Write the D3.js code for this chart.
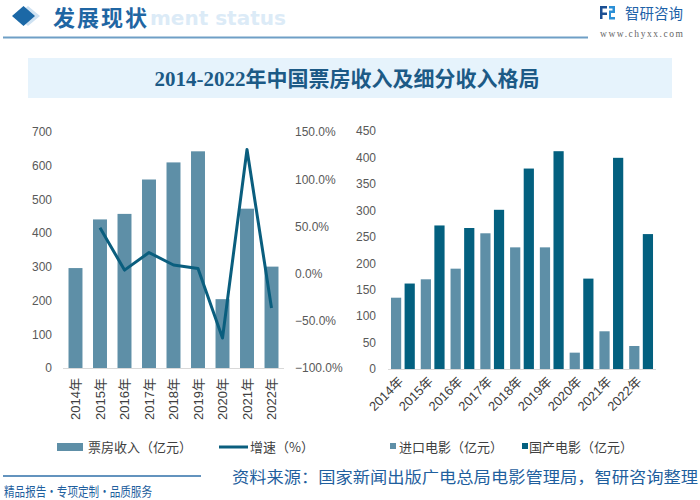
<!DOCTYPE html>
<html><head><meta charset="utf-8">
<script src="https://cdn.jsdelivr.net/npm/d3@7"></script>
<style>body{margin:0;background:#fff;} svg{display:block;}</style>
</head><body>
<svg id="c" width="700" height="500"></svg>
<script>
const years = ["2014年","2015年","2016年","2017年","2018年","2019年","2020年","2021年","2022年"];
const boxOffice = [296.4, 440.7, 457.1, 559.1, 609.8, 642.7, 204.2, 472.6, 300.7];
const growth = [null, 0.487, 0.037, 0.223, 0.091, 0.054, -0.682, 1.315, -0.364];
const importFilm = [134.8, 169.6, 189.7, 256.6, 230.0, 230.0, 30.9, 71.3, 43.5];
const domesticFilm = [161.6, 271.4, 266.6, 301.0, 379.0, 411.8, 170.9, 399.3, 255.1];
const leftTicks = [0,100,200,300,400,500,600,700];
const pctTicks = [-1,-0.5,0,0.5,1,1.5];
const rightTicks = [0,50,100,150,200,250,300,350,400,450];

const svg = d3.select("#c");
const CJK = "'Noto Sans CJK SC', 'Noto Sans', sans-serif";
const NUM = "'Liberation Sans', 'Noto Sans CJK SC', sans-serif";
const cBar = "#5e8fa7", cDom = "#03607f", cLine = "#0a5e7e";

// header
svg.append("text").attr("x",150).attr("y",25).attr("font-family","'DejaVu Sans', sans-serif")
  .attr("font-weight","bold").attr("font-size",20).attr("fill","#dcebf7").text("ment status");
svg.append("path").attr("d","M28,6 L40,16 L28,26 L16,16 Z").attr("fill","#cfe2f2");
svg.append("path").attr("d","M23.5,6 L35,16 L23.5,26 L12,16 Z").attr("fill","#1b68a6");
svg.append("text").attr("x",53).attr("y",25.5).attr("font-family",CJK).attr("font-weight","bold")
  .attr("font-size",22).attr("fill","#1f66a3").attr("textLength",94).text("发展现状");
svg.append("line").attr("x1",3).attr("x2",588).attr("y1",37.5).attr("y2",37.5).attr("stroke","#6f9fc6").attr("stroke-width",2);
// logo
const lg = svg.append("g");
lg.append("path").attr("d","M600,6 h7 v2.5 h-4.5 v4 h4.5 v2.5 h-4.5 v4 h-2.5 Z").attr("fill","#1b4f93");
lg.append("path").attr("d","M609,6 h6 v7 h-4 v4 h4 v2.5 h-6 v-9 h3.5 v-2 h-3.5 Z").attr("fill","#2b8fd6");
lg.append("text").attr("x",625).attr("y",19).attr("font-family",CJK).attr("font-size",14.5).attr("fill","#1d62a8").text("智研咨询");
lg.append("text").attr("x",600).attr("y",37).attr("font-family","'Liberation Serif', serif").attr("font-size",9.5)
  .attr("fill","#666").attr("textLength",83).text("www.chyxx.com");

// title band
svg.append("rect").attr("x",28).attr("y",58).attr("width",644).attr("height",40).attr("fill","#e6f3fc");
svg.append("text").attr("x",347).attr("y",86).attr("text-anchor","middle")
  .attr("font-family","'Liberation Serif', 'Noto Sans CJK SC', serif").attr("font-weight","bold")
  .attr("font-size",21).attr("fill","#1c5a86").text("2014-2022年中国票房收入及细分收入格局");

// ---------- Left chart ----------
const xL = d3.scaleBand().domain(years).range([63,284]).paddingInner(0.43).paddingOuter(0.225);
const yL = d3.scaleLinear().domain([0,700]).range([368,132]);
const yP = d3.scaleLinear().domain([-1,1.5]).range([368,132]);

const gL = svg.append("g");
gL.selectAll("rect.bo").data(years).join("rect").attr("class","bo")
  .attr("x",d=>xL(d)).attr("width",xL.bandwidth())
  .attr("y",(d,i)=>yL(boxOffice[i])).attr("height",(d,i)=>yL(0)-yL(boxOffice[i]))
  .attr("fill",cBar);
gL.append("line").attr("x1",63).attr("x2",284).attr("y1",368.5).attr("y2",368.5).attr("stroke","#d9d9d9");

const axL = d3.axisLeft(yL).tickValues(leftTicks).tickSize(0).tickPadding(0);
const gaL = svg.append("g").attr("transform","translate(52,0)").call(axL);
gaL.select(".domain").remove();
gaL.selectAll("text").attr("font-family",NUM).attr("font-size",12).attr("fill","#595959");

const axP = d3.axisRight(yP).tickValues(pctTicks).tickSize(0).tickPadding(0).tickFormat(d=>d3.format(".1f")(d*100)+"%");
const gaP = svg.append("g").attr("transform","translate(295,0)").call(axP);
gaP.select(".domain").remove();
gaP.selectAll("text").attr("font-family",NUM).attr("font-size",12).attr("fill","#595959");

const lineGen = d3.line().defined(d=>d.v!==null).x(d=>xL(d.y)+xL.bandwidth()/2).y(d=>yP(d.v));
gL.append("path").datum(years.map((y,i)=>({y:y,v:growth[i]})))
  .attr("d",lineGen).attr("fill","none").attr("stroke",cLine).attr("stroke-width",3).attr("stroke-linejoin","round");

const axBL = d3.axisBottom(xL).tickSize(0);
const gxL = svg.append("g").attr("transform","translate(0,368)").call(axBL);
gxL.select(".domain").remove();
gxL.selectAll("text").attr("font-family",NUM).attr("font-size",13).attr("fill","#404040")
  .attr("transform","rotate(-90)").attr("text-anchor","end").attr("x",-10).attr("y",0).attr("dy","0.35em");

// left legend
svg.append("rect").attr("x",57).attr("y",443).attr("width",26).attr("height",8).attr("fill",cBar);
svg.append("text").attr("x",88).attr("y",452).attr("font-family",CJK).attr("font-size",13).attr("fill","#404040").text("票房收入（亿元）");
svg.append("line").attr("x1",219).attr("x2",248).attr("y1",447).attr("y2",447).attr("stroke",cLine).attr("stroke-width",3);
svg.append("text").attr("x",250).attr("y",452).attr("font-family",CJK).attr("font-size",13).attr("fill","#404040").text("增速（%）");

// ---------- Right chart ----------
const x0 = d3.scaleBand().domain(years).range([388,656]).paddingInner(0.2).paddingOuter(0.1);
const keys = ["import","domestic"];
const x1 = d3.scaleBand().domain(keys).range([0,x0.bandwidth()]).paddingInner(0.25);
const yR = d3.scaleLinear().domain([0,450]).range([369,131]);
const series = {import:importFilm, domestic:domesticFilm};
const colors = {import:cBar, domestic:cDom};

const gR = svg.append("g");
keys.forEach(k=>{
  gR.selectAll("rect."+k).data(years).join("rect").attr("class",k)
    .attr("x",d=>x0(d)+x1(k)).attr("width",x1.bandwidth())
    .attr("y",(d,i)=>yR(series[k][i])).attr("height",(d,i)=>yR(0)-yR(series[k][i]))
    .attr("fill",colors[k]);
});
gR.append("line").attr("x1",388).attr("x2",656).attr("y1",369.5).attr("y2",369.5).attr("stroke","#d9d9d9");

const axR = d3.axisLeft(yR).tickValues(rightTicks).tickSize(0).tickPadding(0);
const gaR = svg.append("g").attr("transform","translate(376,0)").call(axR);
gaR.select(".domain").remove();
gaR.selectAll("text").attr("font-family",NUM).attr("font-size",12).attr("fill","#595959");

const axBR = d3.axisBottom(x0).tickSize(0);
const gxR = svg.append("g").attr("transform","translate(0,369)").call(axBR);
gxR.select(".domain").remove();
gxR.selectAll("text").attr("font-family",NUM).attr("font-size",13).attr("fill","#404040")
  .attr("text-anchor","end").attr("x",0).attr("y",0).attr("dy","0.35em")
  .attr("transform","translate(-2,10) rotate(-45)");

// right legend
svg.append("rect").attr("x",390).attr("y",443).attr("width",6).attr("height",6).attr("fill",cBar);
svg.append("text").attr("x",399).attr("y",452).attr("font-family",CJK).attr("font-size",13).attr("fill","#404040").text("进口电影（亿元）");
svg.append("rect").attr("x",522).attr("y",443).attr("width",6).attr("height",6).attr("fill",cDom);
svg.append("text").attr("x",529).attr("y",452).attr("font-family",CJK).attr("font-size",13).attr("fill","#404040").text("国产电影（亿元）");

// footer
svg.append("line").attr("x1",3).attr("x2",201).attr("y1",476).attr("y2",476).attr("stroke","#2f6fa8").attr("stroke-width",1.5);
svg.append("text").attr("x",4).attr("y",496).attr("font-family",CJK).attr("font-size",13).attr("fill","#1f5f9e")
  .attr("textLength",148).attr("lengthAdjust","spacingAndGlyphs").text("精品报告·专项定制·品质服务");
svg.append("text").attr("x",232).attr("y",483).attr("font-family",CJK).attr("font-size",15.5).attr("fill","#1f5f9e")
  .attr("textLength",466).attr("lengthAdjust","spacingAndGlyphs").text("资料来源：国家新闻出版广电总局电影管理局，智研咨询整理");
</script>
</body></html>
